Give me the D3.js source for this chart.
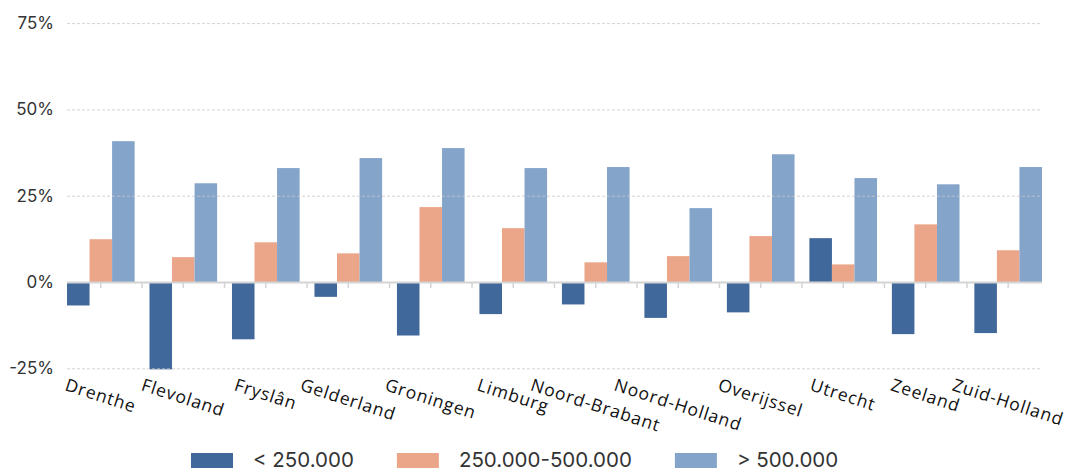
<!DOCTYPE html>
<html>
<head>
<meta charset="utf-8">
<script src="https://cdn.jsdelivr.net/npm/d3@7"></script>
<style>
  html, body { margin: 0; padding: 0; background: #fff; }
  svg { display: block; }
</style>
</head>
<body>
<svg id="chart" width="1067" height="470"></svg>
<script>
const categories = ["Drenthe","Flevoland","Fryslân","Gelderland","Groningen","Limburg","Noord-Brabant","Noord-Holland","Overijssel","Utrecht","Zeeland","Zuid-Holland"];
const seriesNames = ["< 250.000","250.000-500.000","> 500.000"];
const seriesColors = ["#41689A","#EBA68A","#84A4CA"];
const small = [-6.8,-25.3,-16.6,-4.3,-15.5,-9.3,-6.5,-10.4,-8.8,12.7,-15.1,-14.8];
const medium = [12.4,7.2,11.5,8.3,21.7,15.6,5.7,7.5,13.3,5.1,16.7,9.2];
const large = [40.8,28.6,33.0,35.9,38.8,33.0,33.3,21.4,37.0,30.1,28.3,33.3];
const yTicks = [-25,0,25,50,75];
const yTickLabels = ["-25%","0%","25%","50%","75%"];

const seriesValues = [small, medium, large];
const svg = d3.select("#chart");
const plotLeft = 67, plotRight = 1042, plotTop = 23.1, plotBottom = 368.3;

const x = d3.scaleBand().domain(categories).range([plotLeft, plotRight]).paddingInner(0.18).paddingOuter(0);
const xs = d3.scaleBand().domain(d3.range(seriesNames.length)).range([0, x.bandwidth()]).padding(0);
const y = d3.scaleLinear().domain([-25, 75]).range([plotBottom, plotTop]);

// bars
const groups = svg.append("g").selectAll("g").data(categories).join("g")
  .attr("transform", d => `translate(${x(d)},0)`);
groups.selectAll("rect")
  .data((d, i) => seriesValues.map((vals, s) => ({s, v: vals[i]})))
  .join("rect")
  .attr("x", d => xs(d.s))
  .attr("width", xs.bandwidth())
  .attr("y", d => y(Math.max(0, d.v)))
  .attr("height", d => Math.abs(y(d.v) - y(0)))
  .attr("fill", d => seriesColors[d.s]);

// grid (drawn above bars)
const yAxis = d3.axisLeft(y).tickValues(yTicks).tickSize(-(plotRight - plotLeft)).tickFormat((d, i) => yTickLabels[i]);
const ga = svg.append("g").attr("transform", `translate(${plotLeft},0)`).call(yAxis);
ga.select(".domain").remove();
ga.selectAll(".tick line")
  .attr("stroke", d => d === 0 ? "#d4d4d4" : "#c8c8c8")
  .attr("stroke-width", d => d === 0 ? 2 : 1)
  .attr("stroke-dasharray", d => d === 0 ? null : "3,2")
  .attr("stroke-opacity", d => d === 0 ? 1 : 0.8);
ga.selectAll(".tick text")
  .attr("x", -13)
  .attr("fill", "#333")
  .style("font-family", "Inter, 'Liberation Sans', sans-serif")
  .style("font-size", "17px");

// small ticks below zero line: at group centers and gap midpoints
const tickXs = [];
categories.forEach((c, i) => {
  tickXs.push(x(c) + x.bandwidth() / 2);
  if (i < categories.length - 1) tickXs.push(x(c) + x.bandwidth() + (x.step() - x.bandwidth()) / 2);
});
svg.append("g").selectAll("line").data(tickXs).join("line")
  .attr("x1", d => d).attr("x2", d => d)
  .attr("y1", y(0) + 1).attr("y2", y(0) + 6)
  .attr("stroke", "#d4d4d4").attr("stroke-width", 1.5);

// x labels rotated
const angle = 18, rad = angle * Math.PI / 180, fs = 17.5, capH = fs * 0.72;
const lab = svg.append("g").selectAll("g").data(categories).join("g");
lab.append("text")
  .text(d => d)
  .attr("y", capH)
  .attr("fill", "#111")
  .style("font-family", "'Open Sans', sans-serif")
  .style("letter-spacing", "0.9px")
  .style("font-size", fs + "px");
lab.attr("transform", function(d) {
  const w = this.querySelector("text").getComputedTextLength();
  const cx = x(d) + x.bandwidth() / 2;
  const x0 = cx - (w * Math.cos(rad) - capH * Math.sin(rad)) / 2;
  return `translate(${x0},378) rotate(${angle})`;
});

// legend
const leg = svg.append("g");
const items = leg.selectAll("g").data(seriesNames).join("g");
items.append("rect").attr("x", 0).attr("y", 453).attr("width", 42).attr("height", 15)
  .attr("fill", (d, i) => seriesColors[i]);
items.append("text").text(d => d).attr("x", 62).attr("y", 466.5)
  .attr("fill", "#333")
  .style("font-family", "Inter, 'Liberation Sans', sans-serif")
  .style("font-size", "20.5px");
let cursor = 191;
items.each(function() {
  const w = this.querySelector("text").getComputedTextLength();
  d3.select(this).attr("transform", `translate(${cursor},0)`);
  cursor += 62 + w + 43;
});
</script>
</body>
</html>
